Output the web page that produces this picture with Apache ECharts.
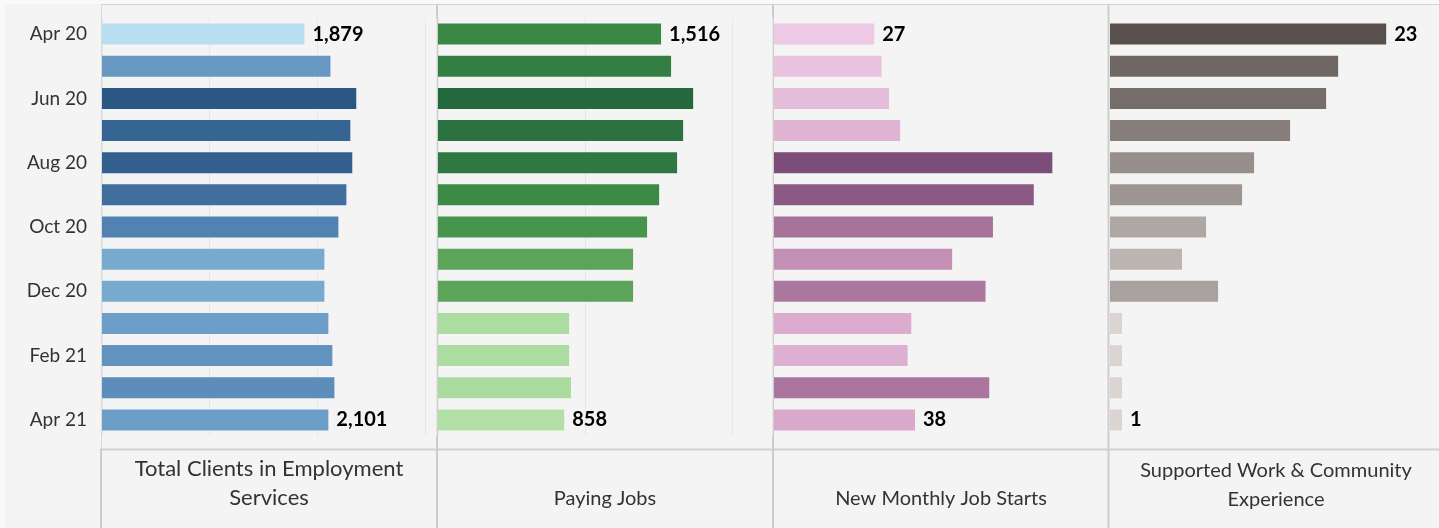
<!DOCTYPE html>
<html>
<head>
<meta charset="utf-8">
<title>Employment Services</title>
<script src="https://cdn.jsdelivr.net/npm/echarts@6/dist/echarts.min.js"></script>
<style>
  html, body { margin: 0; padding: 0; background: #f9f9f9; }
  #chart { width: 1439px; height: 528px; }
</style>
</head>
<body>
<div id="chart"></div>
<script>
// months, top to bottom
var months = ['Apr 20', 'May 20', 'Jun 20', 'Jul 20', 'Aug 20', 'Sep 20', 'Oct 20',
              'Nov 20', 'Dec 20', 'Jan 21', 'Feb 21', 'Mar 21', 'Apr 21'];

// values
var totalClients  = [1879, 2120, 2360, 2305, 2323, 2268, 2194, 2064, 2064, 2101, 2138, 2157, 2101];
var payingJobs    = [1516, 1584, 1734, 1666, 1625, 1503, 1421, 1326, 1326, 891, 891, 904, 858];
var newJobStarts  = [27, 29, 31, 34, 75, 70, 59, 48, 57, 37, 36, 58, 38];
var supportedWork = [23, 19, 18, 15, 12, 11, 8, 6, 9, 1, 1, 1, 1];

var panelTitles = ['Total Clients in Employment\nServices', 'Paying Jobs',
                   'New Monthly Job Starts', 'Supported Work & Community\nExperience'];

var FONT = 'Lato, "Open Sans", sans-serif';

// layout + colour ramps per panel
var panels = [
  { data: totalClients,  left: 102,  width: 334, max: 3100, grid: true,
    ramp: ['#b9ddf1', '#7fb0d4', '#5080b1', '#2a5783'] },
  { data: payingJobs,    left: 438,  width: 334, max: 2270, grid: true,
    ramp: ['#b3e0a6', '#80c174', '#439149', '#24693d'] },
  { data: newJobStarts,  left: 774,  width: 334, max: 90,   grid: false,
    ramp: ['#eec9e5', '#cf9bbf', '#a8739b', '#7c4d79'] },
  { data: supportedWork, left: 1110, width: 329, max: 27.4, grid: false,
    ramp: ['#dcd4d0', '#ada5a2', '#837977', '#59504e'] }
];
var titleX = [269, 605, 941, 1276];
var titleY = [483, 499, 499, 485];
var titleSize = [22, 20, 20, 20];

var chart = echarts.init(document.getElementById('chart'));

var grids = [], xAxes = [], yAxes = [], series = [], visualMaps = [];
var last = months.length - 1;

panels.forEach(function (p, k) {
  grids.push({ left: p.left, width: p.width, top: 18, bottom: 92, containLabel: false });

  xAxes.push({
    type: 'value', gridIndex: k, min: 0, max: p.max, interval: p.max > 1000 ? 1000 : null,
    axisLine: { show: false }, axisTick: { show: false }, axisLabel: { show: false },
    splitLine: { show: p.grid, lineStyle: { color: '#e8e8e8', width: 1 } }
  });

  yAxes.push({
    type: 'category', gridIndex: k, data: months, inverse: true,
    axisLine: { show: false }, axisTick: { show: false },
    axisLabel: {
      show: k === 0, interval: 1, margin: 15,
      fontFamily: FONT, fontSize: 19, color: '#333'
    },
    splitLine: { show: false }
  });

  series.push({
    type: 'bar', xAxisIndex: k, yAxisIndex: k, barWidth: 21,
    data: months.map(function (m, i) {
      return { value: [p.data[i], m], label: { show: i === 0 || i === last } };
    }),
    label: {
      position: 'right', distance: 8,
      fontFamily: FONT, fontSize: 20, fontWeight: 'bold', color: '#000',
      formatter: function (d) { return d.value[0].toLocaleString('en-US'); }
    },
    emphasis: { disabled: true },
    animation: false
  });

  visualMaps.push({
    type: 'continuous', show: false, seriesIndex: k, dimension: 0,
    min: Math.min.apply(null, p.data), max: Math.max.apply(null, p.data),
    inRange: { color: p.ramp }
  });
});

// frame lines + header texts
var graphics = [
  { type: 'rect', shape: { x: 0, y: 0, width: 1439, height: 4 }, style: { fill: '#f9f9f9' }, silent: true },
  { type: 'rect', shape: { x: 0, y: 0, width: 5, height: 528 }, style: { fill: '#f9f9f9' }, silent: true },
  { type: 'line', shape: { x1: 101, y1: 4.5, x2: 1439, y2: 4.5 }, style: { stroke: '#d4d4d4', lineWidth: 1 } },
  { type: 'line', shape: { x1: 101.5, y1: 4, x2: 101.5, y2: 449 }, style: { stroke: '#dadada', lineWidth: 1 } },
  { type: 'line', shape: { x1: 100, y1: 449.5, x2: 1439, y2: 449.5 }, style: { stroke: '#cfcfcf', lineWidth: 2 } },
  { type: 'line', shape: { x1: 101, y1: 449, x2: 101, y2: 528 }, style: { stroke: '#cdcdcd', lineWidth: 2 } }
];
[437, 773, 1108.5].forEach(function (x) {
  graphics.push({ type: 'line', shape: { x1: x, y1: 4, x2: x, y2: 528 },
                  style: { stroke: '#cdcdcd', lineWidth: 2 } });
});
panelTitles.forEach(function (t, k) {
  graphics.push({
    type: 'text', x: titleX[k], y: titleY[k],
    style: {
      text: t, align: 'center', verticalAlign: 'middle',
      fontFamily: FONT, fontSize: titleSize[k], lineHeight: 29, fill: '#333'
    }
  });
});

chart.setOption({
  backgroundColor: '#f4f4f4',
  animation: false,
  grid: grids,
  xAxis: xAxes,
  yAxis: yAxes,
  visualMap: visualMaps,
  series: series,
  graphic: graphics
});
</script>
</body>
</html>
